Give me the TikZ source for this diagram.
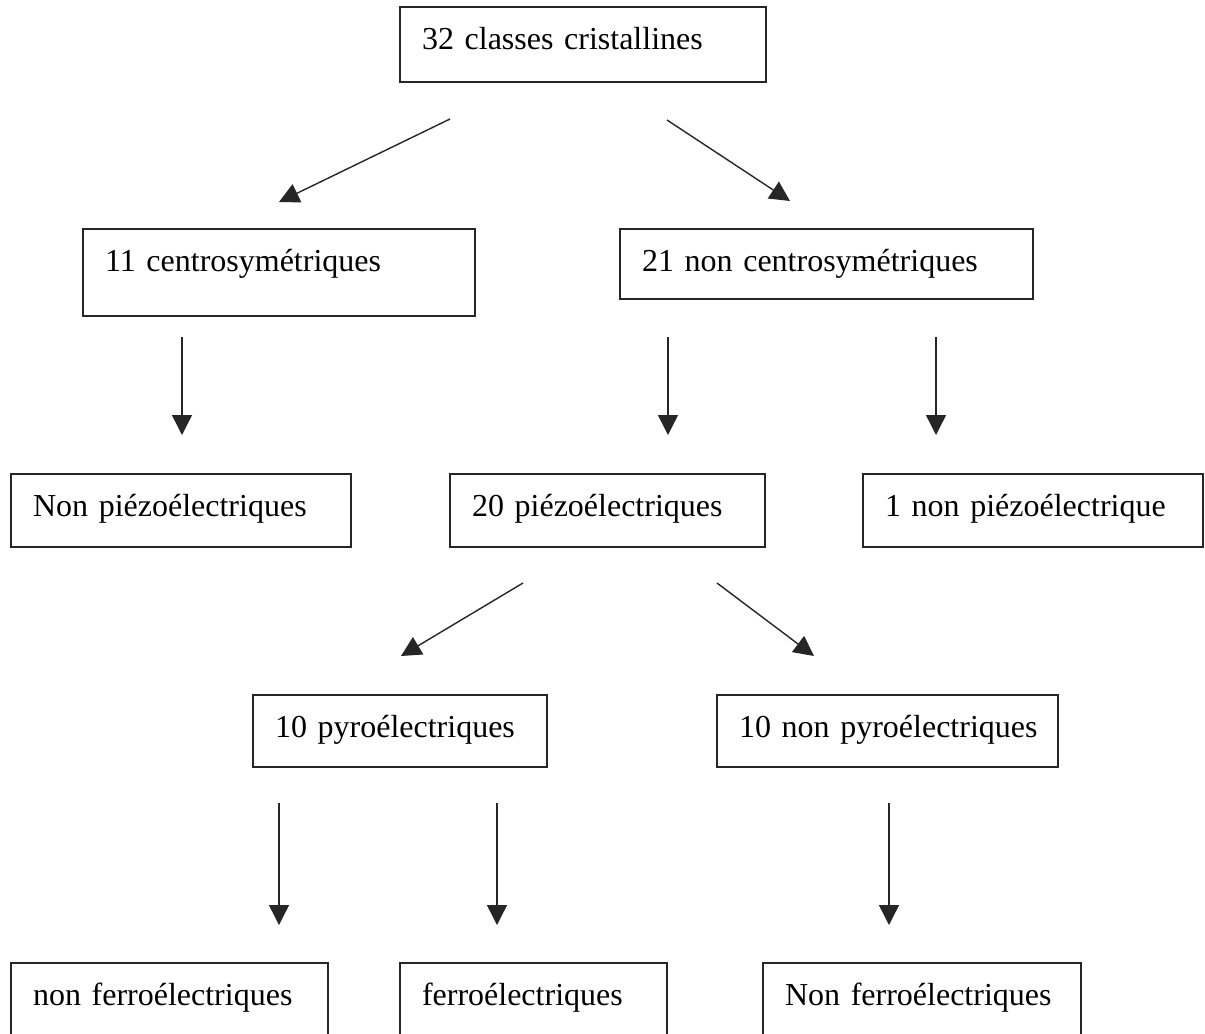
\documentclass[tikz,border=0pt]{standalone}
\usepackage{fontspec}
\setmainfont[WordSpace=0.85]{Liberation Serif}
\usetikzlibrary{arrows.meta}

\begin{document}
\begin{tikzpicture}[x=1bp,y=-1bp,
  box/.style={draw=black!85, line width=1.8bp, anchor=north west,
    inner xsep=22bp, inner ysep=0bp, outer sep=0bp,
    text height=42bp, align=left,
    font=\fontsize{32bp}{38bp}\selectfont},
  link/.style={draw=black!85, line width=1.4bp,
    -{Triangle[length=20bp,width=20bp]}}]
\useasboundingbox (0,0) rectangle (1205,1034);
\clip (0,0) rectangle (1205,1034);

% classification boxes: text width = box width - 44, text depth = box height - 42
\node[box, text width=322bp, text depth=33bp] (b32)  at (400,7)   {\mbox{32 classes cristallines}};
\node[box, text width=348bp, text depth=45bp] (b11)  at (83,229)  {\mbox{11 centrosymétriques}};
\node[box, text width=369bp, text depth=28bp] (b21)  at (620,229) {\mbox{21 non centrosymétriques}};
\node[box, text width=296bp, text depth=31bp] (bnp)  at (11,474)  {\mbox{Non piézoélectriques}};
\node[box, text width=271bp, text depth=31bp] (b20)  at (450,474) {\mbox{20 piézoélectriques}};
\node[box, text width=296bp, text depth=31bp] (b1)   at (863,474) {\mbox{1 non piézoélectrique}};
\node[box, text width=250bp, text depth=30bp] (b10p) at (253,695) {\mbox{10 pyroélectriques}};
\node[box, text width=297bp, text depth=30bp] (b10n) at (717,695) {\mbox{10 non pyroélectriques}};
\node[box, text width=273bp, text depth=45bp] (bnf)  at (11,963)  {\mbox{non ferroélectriques}};
\node[box, text width=223bp, text depth=45bp] (bf)   at (400,963) {\mbox{ferroélectriques}};
\node[box, text width=274bp, text depth=45bp] (bNf)  at (763,963) {\mbox{Non ferroélectriques}};

% free-standing arrow ends
\coordinate (a1s) at (450,119); \coordinate (a1e) at (279,202);
\coordinate (a2s) at (667,120); \coordinate (a2e) at (790,201);
\coordinate (a3s) at (182,337); \coordinate (a3e) at (182,435);
\coordinate (a4s) at (668,337); \coordinate (a4e) at (668,435);
\coordinate (a5s) at (936,337); \coordinate (a5e) at (936,435);
\coordinate (a6s) at (523,583); \coordinate (a6e) at (401,656);
\coordinate (a7s) at (717,583); \coordinate (a7e) at (814,656);
\coordinate (a8s) at (279,803); \coordinate (a8e) at (279,925);
\coordinate (a9s) at (497,803); \coordinate (a9e) at (497,925);
\coordinate (a10s) at (889,803); \coordinate (a10e) at (889,925);

\foreach \i in {1,...,10} \draw[link] (a\i s) -- (a\i e);
\end{tikzpicture}
\end{document}
